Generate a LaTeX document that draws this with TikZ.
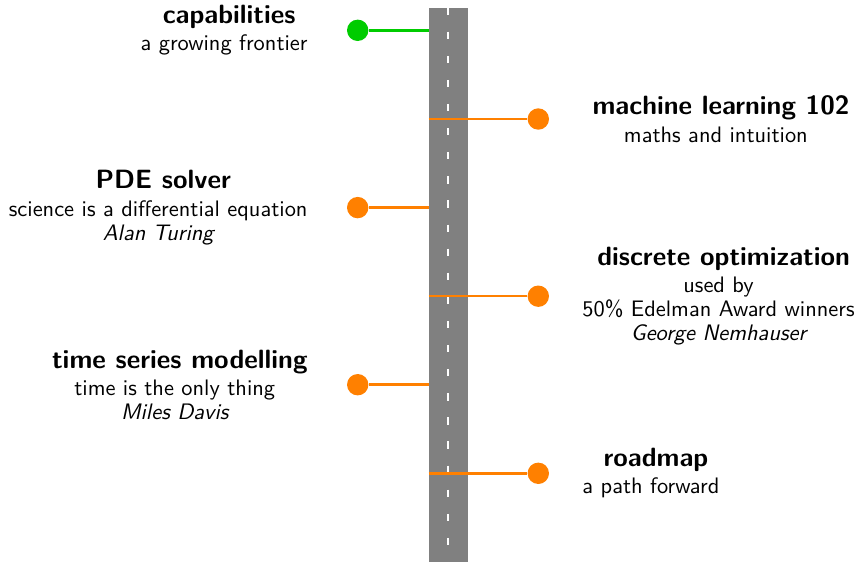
\documentclass[tikz,border=0pt]{standalone}
\usetikzlibrary{calc}
\definecolor{roadgray}{RGB}{128,128,128}
\definecolor{capgreen}{RGB}{0,204,0}
\definecolor{mileorange}{RGB}{255,128,0}
\newcommand\ttl[1]{\hspace*{4.5pt}{\fontsize{11.8}{12}\selectfont\bfseries #1}}
\begin{document}
\begin{tikzpicture}[x=0.4464pt,y=-0.4464pt,
  font=\sffamily\fontsize{10}{10.7}\selectfont,
  road/.style={fill=roadgray,draw=none,inner sep=0pt,minimum width=17.19pt,minimum height=247.3pt},
  centreline/.style={white,line width=0.76pt,dash pattern=on 3.26pt off 7.5pt},
  dot/.style={circle,inner sep=0pt,minimum size=9.55pt,fill=#1},
  link/.style={draw=#1,line width=1.1pt},
  lbl/.style={align=center,inner sep=0pt}]
\useasboundingbox (0,0) rectangle (859,562);
% road
\node[road] (road) at (448.25,285) {};
\draw[centreline] (road.north) -- (road.south);
% milestones
\node[dot=capgreen] (d1) at (357.7,30.3) {};
\node[dot=mileorange] (d2) at (538.3,119) {};
\node[dot=mileorange] (d3) at (357.7,207.6) {};
\node[dot=mileorange] (d4) at (538.3,296.2) {};
\node[dot=mileorange] (d5) at (357.7,384.7) {};
\node[dot=mileorange] (d6) at (538.3,473.3) {};
% connectors
\draw[link=capgreen] (d1) -- (d1 -| road.west);
\draw[link=mileorange] (road.west |- d2) -- (d2);
\draw[link=mileorange] (d3) -- (d3 -| road.west);
\draw[link=mileorange] (road.west |- d4) -- (d4);
\draw[link=mileorange] (d5) -- (d5 -| road.west);
\draw[link=mileorange] (road.west |- d6) -- (d6);
% labels
\node[lbl,anchor=east] (t1) at (308,30.3) {\ttl{capabilities}\\[1.5pt]a growing frontier};
\node[lbl,anchor=west] (t2) at (582,119) {\ttl{machine learning 102}\\[1.5pt]maths and intuition};
\node[lbl,anchor=east] (t3) at (308,207.6) {\ttl{PDE solver}\\[1.5pt]science is a differential equation\\\itshape Alan Turing};
\node[lbl,anchor=west] (t4) at (582,296.2) {\ttl{discrete optimization}\\[1.5pt]used by\\50\% Edelman Award winners\\\itshape George Nemhauser};
\node[lbl,anchor=east] (t5) at (308,384.7) {\ttl{time series modelling}\\[1.5pt]time is the only thing\\\itshape Miles Davis};
\node[lbl,anchor=west] (t6) at (582,473.3) {\ttl{roadmap}\\[1.5pt]a path forward};
\end{tikzpicture}
\end{document}
